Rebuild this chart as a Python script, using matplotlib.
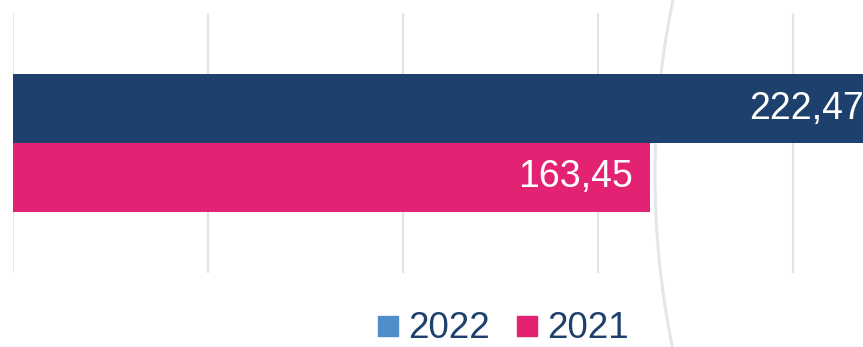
import matplotlib
matplotlib.use("Agg")
import matplotlib.pyplot as plt
from matplotlib.lines import Line2D
from matplotlib.patches import Circle
from matplotlib.transforms import IdentityTransform

plt.rcParams['font.family'] = ['Liberation Sans', 'DejaVu Sans']

# data
categories = ['']
series_names = ['2022', '2021']
values_2022 = [222.47]
values_2021 = [163.45]
bar_colors = ['#1e406c', '#e42274']
legend_colors = ['#4f8dcb', '#e42274']
text_color = '#1e406c'

W, H = 863, 347
fig = plt.figure(figsize=(W / 100, H / 100), dpi=100)

# axes run past the right edge so the long bar is cut off
ax = fig.add_axes([12.5 / W, (H - 273) / H, 975 / W, 260 / H])
ax.patch.set_visible(False)
ax.set_xlim(0, 250)
ax.set_ylim(-0.5, len(categories) - 0.5)

bar_h = 0.265
for i, cat in enumerate(categories):
    for j, (vals, col) in enumerate([(values_2022, bar_colors[0]), (values_2021, bar_colors[1])]):
        y = i + bar_h / 2 - j * bar_h
        b = ax.barh(y, vals[i], height=bar_h, color=col, zorder=3)
        ax.bar_label(b, labels=[f"{vals[i]:.2f}".replace('.', ',')], label_type='edge',
                     padding=-12, color='white', fontsize=27, zorder=4)

# labels sit inside the bar end
for t in ax.texts:
    t.set_ha('right')

ax.set_xticks([0, 50, 100, 150, 200, 250])
ax.grid(axis='x', color='#e4e4e4', linewidth=1.6, zorder=0)
ax.tick_params(length=0, labelbottom=False, labelleft=False)
ax.set_yticks([])
for s in ax.spines.values():
    s.set_visible(False)

# thin decorative arc behind the plot
arc = Circle((1515, H - 175), 860, transform=IdentityTransform(), fill=False,
             edgecolor='#e3e6ea', linewidth=2.2, zorder=-1)
fig.add_artist(arc)

handles = [Line2D([], [], marker='s', linestyle='', markersize=14, color=c) for c in legend_colors]
leg = fig.legend(handles, series_names, loc='center', bbox_to_anchor=(504 / W, (H - 329) / H),
                 ncol=2, frameon=False, fontsize=26.5, handlelength=0.5, handletextpad=0.3,
                 columnspacing=0.75, borderpad=0, borderaxespad=0)
for t in leg.get_texts():
    t.set_color(text_color)

fig.savefig('out.png', dpi=100)
